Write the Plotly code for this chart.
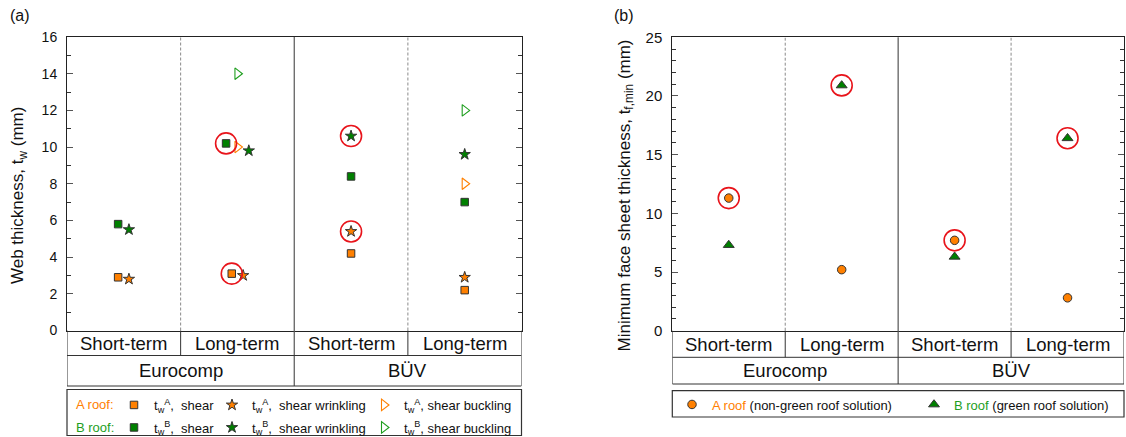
import plotly.graph_objects as go

# ---------------- data ----------------
categories = ["Short-term", "Long-term", "Short-term", "Long-term"]
groups = ["Eurocomp", "BÜV"]

# (a) web thickness t_w (mm)
tw_shear_A = [2.9, 3.1, 4.2, 2.2]
tw_wrinkling_A = [2.8, 3.0, 5.4, 2.9]
tw_buckling_A = [None, 10.0, None, 8.0]
tw_shear_B = [5.8, 10.2, 8.4, 7.0]
tw_wrinkling_B = [5.5, 9.8, 10.6, 9.6]
tw_buckling_B = [None, 14.0, None, 12.0]
# governing (circled) values in (a): (series, category index)
governing_a = [("shear_A", 1), ("shear_B", 1), ("wrinkling_A", 2), ("wrinkling_B", 2)]

# (b) minimum face sheet thickness t_f,min (mm)
tf_min_A = [11.3, 5.2, 7.7, 2.8]
tf_min_B = [7.3, 20.9, 6.3, 16.4]
governing_b = [("A", 0), ("B", 1), ("A", 2), ("B", 3)]

yticks_a = list(range(0, 17, 2))
yticks_b = list(range(0, 26, 5))

# ---------------- style ----------------
FONT = "Liberation Sans, Arial, sans-serif"
ORANGE = "#FF8000"
GREEN = "#008000"
GREEN_LT = "#1E9E1E"
RED = "#E8141B"
EDGE = "#333333"
FRAME = "#222222"
GRAYD = "#8a8a8a"

# horizontal jitter (fraction of a category width) for overlapping symbols
jit_shear_A = [-0.05, -0.05, 0, 0]
jit_shear_B = [-0.05, -0.10, 0, 0]
jit_wr_A = [0.045, 0.05, 0, 0]
jit_wr_B = [0.045, 0.10, 0, 0]
jit_zero = [0, 0, 0, 0]

W, H = 1126, 437
def px(x): return x / W
def py(y): return 1 - y / H

L1, R1, T1, B1 = 67, 521.5, 37, 330.5
L2, R2, T2, B2 = 672.3, 1124, 37.3, 330.7
ROW1_A, ROW2_A, LEG_T_A, LEG_B_A = 355.5, 386, 389.5, 435.5
ROW1_B, ROW2_B, LEG_T_B, LEG_B_B = 357.3, 384, 390.7, 417

xc = [i + 0.5 for i in range(len(categories))]
def xs(jit): return [x + j for x, j in zip(xc, jit)]

fig = go.Figure()

series_a = {
    "shear_A": (tw_shear_A, jit_shear_A),
    "shear_B": (tw_shear_B, jit_shear_B),
    "wrinkling_A": (tw_wrinkling_A, jit_wr_A),
    "wrinkling_B": (tw_wrinkling_B, jit_wr_B),
}

sup = "t<sub>w</sub><sup>%s</sup>,\u00a0\u00a0%s"

# buckling (open triangles) first so filled symbols overlay them
fig.add_trace(go.Scatter(x=xs(jit_zero), y=tw_buckling_A, mode="markers", xaxis="x", yaxis="y",
    name="t<sub>w</sub><sup>A</sup>, shear buckling", legend="legend", legendrank=3,
    marker=dict(symbol="triangle-right-open", size=10, color=ORANGE, line=dict(width=1.1, color=ORANGE))))
fig.add_trace(go.Scatter(x=xs(jit_zero), y=tw_buckling_B, mode="markers", xaxis="x", yaxis="y",
    name="t<sub>w</sub><sup>B</sup>, shear buckling", legend="legend2", legendrank=3,
    marker=dict(symbol="triangle-right-open", size=10, color=GREEN_LT, line=dict(width=1.1, color=GREEN_LT))))

fig.add_trace(go.Scatter(x=xs(jit_shear_A), y=tw_shear_A, mode="markers", xaxis="x", yaxis="y",
    name=sup % ("A", "shear"), legend="legend", legendrank=1, legendwidth=53,
    marker=dict(symbol="square", size=7.5, color=ORANGE, line=dict(width=1, color=EDGE))))
fig.add_trace(go.Scatter(x=xs(jit_wr_A), y=tw_wrinkling_A, mode="markers", xaxis="x", yaxis="y",
    name=sup % ("A", "shear wrinkling"), legend="legend", legendrank=2, legendwidth=107,
    marker=dict(symbol="star", size=8.5, color=ORANGE, line=dict(width=1, color=EDGE))))
fig.add_trace(go.Scatter(x=xs(jit_shear_B), y=tw_shear_B, mode="markers", xaxis="x", yaxis="y",
    name=sup % ("B", "shear"), legend="legend2", legendrank=1, legendwidth=53,
    marker=dict(symbol="square", size=7.5, color=GREEN, line=dict(width=1, color=EDGE))))
fig.add_trace(go.Scatter(x=xs(jit_wr_B), y=tw_wrinkling_B, mode="markers", xaxis="x", yaxis="y",
    name=sup % ("B", "shear wrinkling"), legend="legend2", legendrank=2, legendwidth=107,
    marker=dict(symbol="star", size=8.5, color=GREEN, line=dict(width=1, color=EDGE))))

# red circles around governing values (a)
hx = [xs(series_a[s][1])[i] for s, i in governing_a]
hy = [series_a[s][0][i] for s, i in governing_a]
fig.add_trace(go.Scatter(x=hx, y=hy, mode="markers", xaxis="x", yaxis="y", showlegend=False,
    marker=dict(symbol="circle-open", size=21, color=RED, line=dict(width=1.6, color=RED))))

# (b)
fig.add_trace(go.Scatter(x=xc, y=tf_min_A, mode="markers", xaxis="x2", yaxis="y2",
    name="<span style='color:%s'>A roof</span> (non-green roof solution)" % ORANGE,
    legend="legend3", legendrank=1, legendwidth=197,
    marker=dict(symbol="circle", size=8.5, color=ORANGE, line=dict(width=1, color=EDGE))))
fig.add_trace(go.Scatter(x=xc, y=tf_min_B, mode="markers", xaxis="x2", yaxis="y2",
    name="<span style='color:%s'>B roof</span> (green roof solution)" % GREEN_LT,
    legend="legend3", legendrank=2,
    marker=dict(symbol="triangle-up", size=9.5, color=GREEN, line=dict(width=1, color=EDGE))))
series_b = {"A": tf_min_A, "B": tf_min_B}
fig.add_trace(go.Scatter(x=[xc[i] for s, i in governing_b], y=[series_b[s][i] for s, i in governing_b],
    mode="markers", xaxis="x2", yaxis="y2", showlegend=False,
    marker=dict(symbol="circle-open", size=21, color=RED, line=dict(width=1.6, color=RED))))

# ---------------- shapes (frames, dividers, category table, legend boxes) ----------------
shapes = []
def line(x0, y0, x1, y1, xref, yref, color=EDGE, width=1, dash=None):
    d = dict(type="line", x0=x0, y0=y0, x1=x1, y1=y1, xref=xref, yref=yref,
             line=dict(color=color, width=width))
    if dash:
        d["line"]["dash"] = dash
    shapes.append(d)

for xr, yr, top, b0, r1, r2, lt, lb, L, R in [
        ("x", "y", 16, B1, ROW1_A, ROW2_A, LEG_T_A, LEG_B_A, L1, R1),
        ("x2", "y2", 25, B2, ROW1_B, ROW2_B, LEG_T_B, LEG_B_B, L2, R2)]:
    # dashed dividers within a group
    for xv in (1, 3):
        line(xv, 0, xv, top, xr, yr, color=GRAYD, width=1, dash="3px,2px")
        line(xv, py(b0), xv, py(r1), xr, "paper")
    # solid divider between groups
    line(2, py(T1 if xr == "x" else T2), 2, py(r2), xr, "paper", color="#555555", width=1.2)
    # table rows
    line(0, py(r1), 4, py(r1), xr, "paper")
    line(0, py(r2), 4, py(r2), xr, "paper")
    line(0, py(b0), 0, py(r2), xr, "paper")
    line(4, py(b0), 4, py(r2), xr, "paper")
    # legend box
    shapes.append(dict(type="rect", xref="paper", yref="paper", x0=px(L), x1=px(R),
                       y0=py(lb), y1=py(lt), line=dict(color=EDGE, width=1.2)))

# ---------------- annotations ----------------
ann = []
for xr, r0, r1, r2 in [("x", B1, ROW1_A, ROW2_A), ("x2", B2, ROW1_B, ROW2_B)]:
    for i, c in enumerate(categories):
        ann.append(dict(x=xc[i], y=py((r0 + r1) / 2), xref=xr, yref="paper", text=c,
                        showarrow=False, xanchor="center", yanchor="middle",
                        font=dict(size=18.5, color="#111")))
    for g, gx in zip(groups, (1, 3)):
        ann.append(dict(x=gx, y=py((r1 + r2) / 2), xref=xr, yref="paper", text=g,
                        showarrow=False, xanchor="center", yanchor="middle",
                        font=dict(size=18.5, color="#111")))

ann.append(dict(x=px(19), y=py(196), xref="paper", yref="paper", text="Web thickness, t<sub>w</sub> (mm)",
                textangle=-90, showarrow=False, xanchor="center", yanchor="middle",
                font=dict(size=17, color="#111")))
ann.append(dict(x=px(625), y=py(195.5), xref="paper", yref="paper",
                text="Minimum face sheet thickness, t<sub>f,min</sub> (mm)",
                textangle=-90, showarrow=False, xanchor="center", yanchor="middle",
                font=dict(size=17, color="#111")))
ann.append(dict(x=px(8), y=py(16), xref="paper", yref="paper", text="(a)", showarrow=False,
                xanchor="left", yanchor="middle", font=dict(size=16, color="#111")))
ann.append(dict(x=px(612), y=py(16), xref="paper", yref="paper", text="(b)", showarrow=False,
                xanchor="left", yanchor="middle", font=dict(size=16, color="#111")))
ann.append(dict(x=px(74), y=py(404.5), xref="paper", yref="paper", text="A roof:", showarrow=False,
                xanchor="left", yanchor="middle", font=dict(size=13, color=ORANGE)))
ann.append(dict(x=px(74), y=py(427), xref="paper", yref="paper", text="B roof:", showarrow=False,
                xanchor="left", yanchor="middle", font=dict(size=13, color=GREEN_LT)))

def yax(domain, rng, tickvals, fsize, anchor):
    return dict(domain=domain, range=rng, anchor=anchor, tickvals=tickvals, ticks="inside", ticklen=6,
                tickwidth=1, tickcolor="#555555", showline=True, linecolor=FRAME, linewidth=1,
                mirror="ticks", minor=dict(dtick=1, ticks="inside", ticklen=4, tickcolor="#333333"),
                showgrid=False, zeroline=False, ticklabelstandoff=6, automargin=False,
                tickfont=dict(size=fsize, color="#111"), fixedrange=True)

def xax(domain, anchor):
    return dict(domain=domain, range=[0, 4], anchor=anchor, showline=True, linecolor=FRAME, linewidth=1,
                mirror=True, ticks="", showticklabels=False, showgrid=False, zeroline=False,
                automargin=False, fixedrange=True)

legbase = dict(orientation="h", xanchor="left", yanchor="middle", bgcolor="rgba(0,0,0,0)",
               borderwidth=0, itemwidth=30, font=dict(size=13, color="#111", family=FONT),
               traceorder="normal")

fig.update_layout(
    template="none",
    width=W, height=H, margin=dict(l=0, r=0, t=0, b=0, pad=0, autoexpand=False),
    paper_bgcolor="white", plot_bgcolor="white",
    font=dict(family=FONT, size=14, color="#111"),
    xaxis=xax([px(L1), px(R1)], "y"),
    yaxis=yax([py(B1), py(T1)], [0, 16], yticks_a, 14, "x"),
    xaxis2=xax([px(L2), px(R2)], "y2"),
    yaxis2=yax([py(B2), py(T2)], [0, 25], yticks_b, 15, "x2"),
    legend=dict(legbase, x=px(114), y=py(405)),
    legend2=dict(legbase, x=px(114), y=py(427.5)),
    legend3=dict(legbase, x=px(672), y=py(404.5)),
    shapes=shapes, annotations=ann, showlegend=True,
)

fig.write_html("out.html", config={"displayModeBar": False},
               post_script="document.body.style.margin='0';document.body.style.padding='0';"
                           "document.body.style.overflow='hidden';")
